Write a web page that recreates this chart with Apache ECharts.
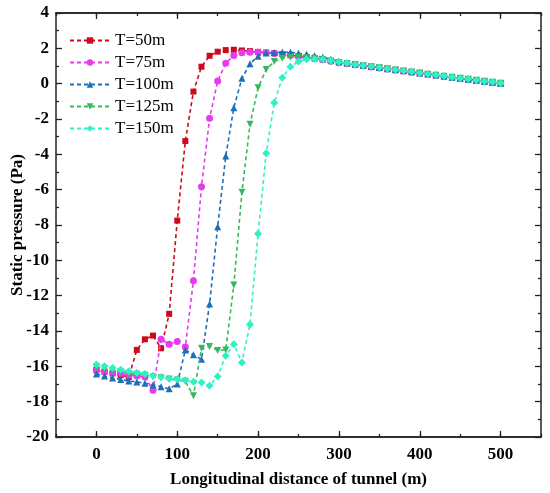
<!DOCTYPE html>
<html>
<head>
<meta charset="utf-8">
<style>
  html, body { margin: 0; padding: 0; background: #fff; }
  #chart { width: 550px; height: 493px; }
</style>
<script src="https://cdn.jsdelivr.net/npm/echarts@6/dist/echarts.min.js"></script>
</head>
<body>
<div id="chart"></div>
<script>
  // distance along the tunnel (m), one point every 10 m
  var distance = [0, 10, 20, 30, 40, 50, 60, 70, 80, 90, 100, 110, 120, 130, 140, 150, 160, 170, 180, 190,
    200, 210, 220, 230, 240, 250, 260, 270, 280, 290, 300, 310, 320, 330, 340, 350, 360, 370, 380, 390,
    400, 410, 420, 430, 440, 450, 460, 470, 480, 490, 500];

  var names = ['T=50m', 'T=75m', 'T=100m', 'T=125m', 'T=150m'];

  var t50 = [-16.2, -16.3, -16.4, -16.5, -16.6, -15.07, -14.47, -14.26, -14.98, -13.03, -7.75, -3.25, -0.45, 0.96, 1.58, 1.81, 1.9, 1.92, 1.88, 1.84,
    1.8, 1.76, 1.72, 1.67, 1.62, 1.56, 1.5, 1.43, 1.36, 1.28, 1.2, 1.14, 1.08, 1.02, 0.96, 0.9, 0.84, 0.78, 0.72, 0.66,
    0.6, 0.54, 0.48, 0.42, 0.36, 0.3, 0.25, 0.19, 0.13, 0.08, 0.02];
  var t75 = [-16.25, -16.3, -16.35, -16.4, -16.5, -16.55, -16.6, -17.35, -14.47, -14.75, -14.6, -14.9, -11.15, -5.83, -1.96, 0.15, 1.15, 1.6, 1.75, 1.78,
    1.78, 1.75, 1.71, 1.66, 1.61, 1.55, 1.49, 1.42, 1.35, 1.27, 1.19, 1.13, 1.07, 1.01, 0.95, 0.89, 0.83, 0.77, 0.71, 0.65,
    0.59, 0.53, 0.47, 0.41, 0.35, 0.29, 0.24, 0.18, 0.12, 0.07, 0.01];
  var t100 = [-16.43, -16.55, -16.66, -16.75, -16.83, -16.88, -16.96, -17.05, -17.15, -17.27, -17.0, -15.07, -15.35, -15.6, -12.47, -8.1, -4.1, -1.36, 0.3, 1.13,
    1.55, 1.74, 1.76, 1.78, 1.78, 1.72, 1.66, 1.58, 1.5, 1.38, 1.27, 1.19, 1.11, 1.04, 0.97, 0.91, 0.85, 0.79, 0.73, 0.67,
    0.61, 0.55, 0.49, 0.43, 0.37, 0.31, 0.25, 0.2, 0.14, 0.08, 0.03];
  var t125 = [-16.05, -16.15, -16.25, -16.3, -16.4, -16.45, -16.5, -16.6, -16.65, -16.72, -16.78, -16.85, -17.67, -14.98, -14.88, -15.1, -15.07, -11.4, -6.15, -2.3,
    -0.23, 0.8, 1.25, 1.44, 1.5, 1.5, 1.47, 1.42, 1.35, 1.28, 1.2, 1.14, 1.08, 1.02, 0.96, 0.9, 0.84, 0.78, 0.72, 0.66,
    0.6, 0.54, 0.48, 0.42, 0.36, 0.3, 0.25, 0.19, 0.13, 0.08, 0.02];
  var t150 = [-15.9, -16.0, -16.1, -16.2, -16.28, -16.36, -16.43, -16.53, -16.62, -16.7, -16.73, -16.79, -16.87, -16.92, -17.1, -16.57, -15.4, -14.75, -15.78, -13.63,
    -8.5, -3.94, -1.08, 0.34, 0.96, 1.25, 1.38, 1.4, 1.37, 1.3, 1.22, 1.15, 1.09, 1.03, 0.97, 0.91, 0.85, 0.79, 0.73, 0.67,
    0.61, 0.55, 0.49, 0.43, 0.37, 0.31, 0.26, 0.2, 0.14, 0.09, 0.03];

  var xMajor = [0, 100, 200, 300, 400, 500];

  var colors = ['#CC0A1E', '#E63CEB', '#1C6FB8', '#35B860', '#2EF2C4'];
  var symbols = ['rect', 'circle', 'triangle', 'path://M0,0 L10,0 L5,9 Z', 'diamond'];
  var sizes = [6, 7, 7, 7, 8];

  var font = 'Liberation Serif, Times New Roman, serif';
  var lineCol = '#222';

  function pairs(values) {
    return distance.map(function (d, i) { return [d, values[i]]; });
  }

  var seriesData = [t50, t75, t100, t125, t150];
  var series = seriesData.map(function (vals, i) {
    return {
      name: names[i],
      type: 'line',
      xAxisIndex: 0,
      yAxisIndex: 0,
      data: pairs(vals),
      symbol: symbols[i],
      symbolSize: sizes[i],
      showSymbol: true,
      itemStyle: { color: colors[i] },
      lineStyle: { color: colors[i], width: 1.6, type: [4, 3] },
      z: 2 + i
    };
  });

  function xAxisBase(pos, major, labels) {
    var a = {
      type: 'value',
      position: pos,
      min: -50,
      max: 550,
      interval: 50,
      splitLine: { show: false },
      axisLine: { show: true, onZero: false, lineStyle: { color: lineCol, width: 1.5 } },
      axisTick: { show: true, inside: true, length: major ? 6 : 3, lineStyle: { color: lineCol, width: 1.3 } },
      axisLabel: { show: false }
    };
    if (major) {
      a.axisTick.customValues = xMajor;
      a.axisLabel = labels ? {
        show: true, customValues: xMajor, margin: 9, color: '#000',
        fontFamily: font, fontWeight: 'bold', fontSize: 17
      } : { show: false };
    }
    return a;
  }

  var xMain = xAxisBase('bottom', true, true);
  xMain.name = 'Longitudinal distance of tunnel (m)';
  xMain.nameLocation = 'middle';
  xMain.nameGap = 34;
  xMain.nameMoveOverlap = false;
  xMain.nameTextStyle = { fontFamily: font, fontWeight: 'bold', fontSize: 17, color: '#000' };

  function yAxisBase(pos, labels) {
    return {
      type: 'value',
      position: pos,
      min: -20,
      max: 4,
      interval: 2,
      splitLine: { show: false },
      axisLine: { show: true, onZero: false, lineStyle: { color: lineCol, width: 1.5 } },
      axisTick: { show: true, inside: true, length: 6, lineStyle: { color: lineCol, width: 1.3 } },
      minorTick: { show: true, splitNumber: 2, length: 3, lineStyle: { color: lineCol, width: 1.3 } },
      minorSplitLine: { show: false },
      axisLabel: labels ? {
        show: true, margin: 7, color: '#000',
        fontFamily: font, fontWeight: 'bold', fontSize: 17
      } : { show: false }
    };
  }

  var yMain = yAxisBase('left', true);
  yMain.name = 'Static pressure (Pa)';
  yMain.nameLocation = 'middle';
  yMain.nameGap = 30;
  yMain.nameMoveOverlap = false;
  yMain.nameTextStyle = { fontFamily: font, fontWeight: 'bold', fontSize: 17, color: '#000' };

  var option = {
    animation: false,
    backgroundColor: '#fff',
    grid: { left: 56, right: 9, top: 13, bottom: 56, containLabel: false, outerBoundsMode: 'none' },
    legend: {
      orient: 'vertical',
      left: 64,
      top: 27,
      itemWidth: 40,
      itemHeight: 8,
      itemGap: 5,
      data: names,
      textStyle: { fontFamily: font, fontSize: 17, color: '#000' }
    },
    xAxis: [
      xMain,
      xAxisBase('bottom', false, false),
      xAxisBase('top', true, false),
      xAxisBase('top', false, false)
    ],
    yAxis: [
      yMain,
      yAxisBase('right', false)
    ],
    series: series
  };

  var myChart = echarts.init(document.getElementById('chart'));
  myChart.setOption(option);
</script>
</body>
</html>
